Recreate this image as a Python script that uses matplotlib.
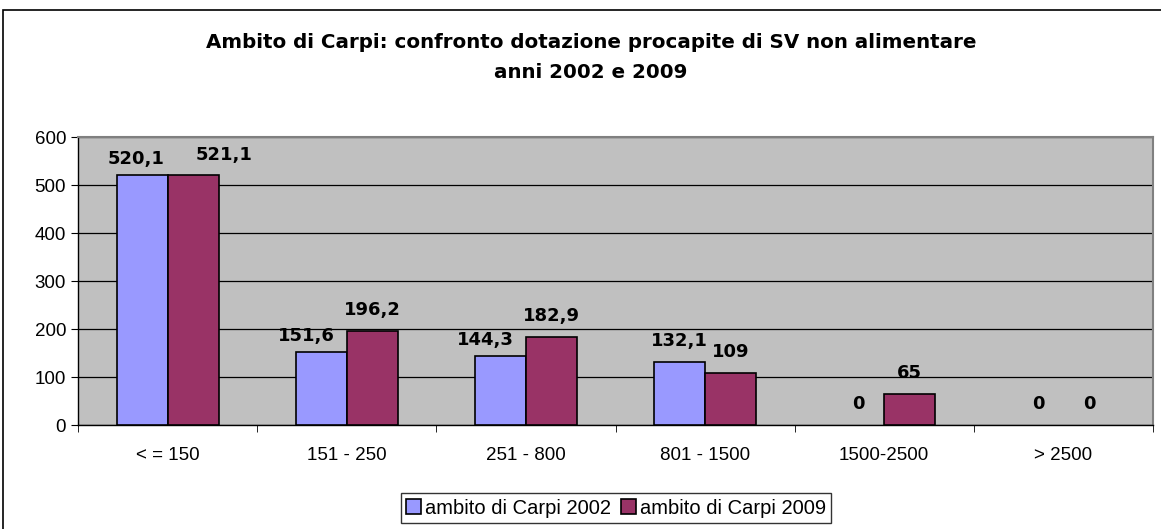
import matplotlib.pyplot as plt
import numpy as np
from matplotlib.patches import Rectangle

categories = ['<=150', '151 - 250', '251 - 800', '801 - 1500', '1500-2500', '>2500']
tick_labels = ['< = 150', '151 - 250', '251 - 800', '801 - 1500', '1500-2500', '> 2500']
val_2002 = [520.1, 151.6, 144.3, 132.1, 0, 0]
val_2009 = [521.1, 196.2, 182.9, 109, 65, 0]
series_names = ['ambito di Carpi 2002', 'ambito di Carpi 2009']

def fmt(v):
    s = ('%.1f' % v).rstrip('0').rstrip('.')
    return s.replace('.', ',')

fig = plt.figure(figsize=(11.61, 5.29), dpi=100)
# outer chart border (clipped on right/bottom like the source)
fig.patches.append(Rectangle((3 / 1161, -0.1), 1.2, (529 - 10) / 529 + 0.1,
                             transform=fig.transFigure, fill=False,
                             edgecolor='black', linewidth=1.2))

ax = fig.add_axes([78 / 1161, 104 / 529, 1075 / 1161, 288 / 529])
ax.set_facecolor('#c0c0c0')

x = np.arange(len(categories))
w = 0.285
b1 = ax.bar(x - w / 2, val_2002, w, color='#9999ff', edgecolor='black', linewidth=1.2,
            label=series_names[0], zorder=3)
b2 = ax.bar(x + w / 2, val_2009, w, color='#993366', edgecolor='black', linewidth=1.2,
            label=series_names[1], zorder=3)

# zero bars are not drawn in the original
for bars, vals in ((b1, val_2002), (b2, val_2009)):
    for rect, v in zip(bars, vals):
        if v == 0:
            rect.set_visible(False)

# value labels, nudged like Excel does to keep them clear of the neighbour bar
for i in range(len(categories)):
    v1, v2 = val_2002[i], val_2009[i]
    off1, off2 = (0, 8.5), (0, 8.5)
    if v1 > 0 and abs(v1 - v2) < 10:
        off1, off2 = (-4, 5), (22, 7.5)
    elif v1 > 0 and v2 > v1 + 10:
        off1 = (-11, 5)
    for rect, v, off in ((b1[i], v1, off1), (b2[i], v2, off2)):
        ax.annotate(fmt(v), (rect.get_x() + rect.get_width() / 2, v),
                    xytext=off, textcoords='offset points', ha='center', va='bottom',
                    fontsize=13, fontweight='bold', family='DejaVu Sans', zorder=4)

ax.set_xlim(-0.5, len(categories) - 0.5)
ax.set_ylim(0, 600)
ax.set_yticks(range(0, 601, 100))
ax.yaxis.grid(True, color='black', linewidth=0.9, zorder=1)
ax.set_axisbelow(True)

ax.set_xticks(x)
ax.set_xticklabels(tick_labels, family='Liberation Sans', fontsize=13.5)
ax.set_xticks(np.arange(-0.5, len(categories)), minor=True)
ax.tick_params(axis='x', which='major', length=0, pad=16)
ax.tick_params(axis='x', which='minor', length=5, color='black')
ax.tick_params(axis='y', length=5, labelsize=13.5)
for lab in ax.get_yticklabels():
    lab.set_family('Liberation Sans')

for side in ('top', 'right'):
    ax.spines[side].set_color('#808080')
    ax.spines[side].set_linewidth(1.5)
for side in ('left', 'bottom'):
    ax.spines[side].set_color('black')
    ax.spines[side].set_linewidth(1.0)

fig.text(0.509, 1 - 43 / 529, 'Ambito di Carpi: confronto dotazione procapite di SV non alimentare',
         ha='center', va='center', fontsize=14.3, fontweight='bold', family='DejaVu Sans')
fig.text(0.509, 1 - 72 / 529, 'anni 2002 e 2009',
         ha='center', va='center', fontsize=14.3, fontweight='bold', family='DejaVu Sans')

leg = fig.legend(handles=[b1, b2], loc='center', bbox_to_anchor=(616 / 1161, 1 - 508 / 529),
                 ncol=2, frameon=True, fancybox=False, edgecolor='black',
                 prop={'family': 'Liberation Sans', 'size': 14.5},
                 handlelength=0.75, handleheight=0.75, handletextpad=0.2,
                 columnspacing=0.5, borderpad=0.25, borderaxespad=0)
leg.get_frame().set_linewidth(1.0)

fig.savefig('out.png', dpi=100)
